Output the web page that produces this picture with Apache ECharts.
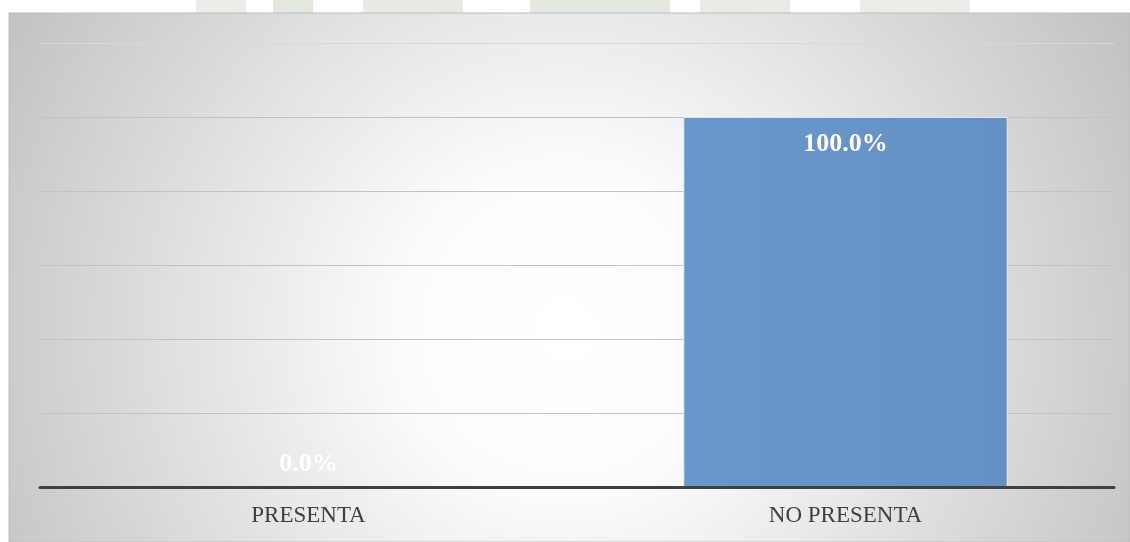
<!DOCTYPE html>
<html>
<head>
<meta charset="utf-8">
<script src="https://cdn.jsdelivr.net/npm/echarts@6/dist/echarts.min.js"></script>
<style>
  html, body { margin: 0; padding: 0; background: #ffffff; }
  #chart { width: 1130px; height: 542px; }
</style>
</head>
<body>
<div id="chart"></div>
<script>
// Categories and their percentages
const categories = ['PRESENTA', 'NO PRESENTA'];
const percentages = [0.0, 100.0];
const valueLabels = ['0.0%', '100.0%'];

const chart = echarts.init(document.getElementById('chart'), null, { renderer: 'canvas' });

const serif = '"Liberation Serif", "DejaVu Serif", serif';

const barData = percentages.map((v, i) => ({
  value: v,
  itemStyle: v > 0 ? {} : { borderWidth: 0 },
  label: v > 0
    ? { show: true, position: 'insideTop', distance: 14, formatter: valueLabels[i] }
    : { show: true, position: 'top', distance: 10, formatter: valueLabels[i] }
}));

chart.setOption({
  animation: false,
  backgroundColor: '#ffffff',
  graphic: [
    // faint logo fragments peeking above the panel
    { type: 'rect', z: -20, shape: { x: 196, y: 0, width: 50, height: 13 }, style: { fill: '#ebeee8' } },
    { type: 'rect', z: -20, shape: { x: 273, y: 0, width: 40, height: 13 }, style: { fill: '#e4e9e0' } },
    { type: 'rect', z: -20, shape: { x: 363, y: 0, width: 100, height: 13 }, style: { fill: '#e7ebe4' } },
    { type: 'rect', z: -20, shape: { x: 530, y: 0, width: 140, height: 13 }, style: { fill: '#e4e9e0' } },
    { type: 'rect', z: -20, shape: { x: 700, y: 0, width: 90, height: 13 }, style: { fill: '#e9ece6' } },
    { type: 'rect', z: -20, shape: { x: 860, y: 0, width: 110, height: 13 }, style: { fill: '#ebeee8' } },
    // shaded chart panel
    {
      type: 'rect', z: -10,
      shape: { x: 9, y: 13, width: 1121, height: 529 },
      style: {
        fill: new echarts.graphic.RadialGradient(565, 330, 640, [
          { offset: 0, color: '#ffffff' },
          { offset: 0.25, color: '#fcfcfc' },
          { offset: 1, color: '#c2c2c2' }
        ], true),
        stroke: '#bcbcbc', lineWidth: 1
      }
    }
  ],
  grid: { left: 40, right: 16, top: 43, bottom: 55, containLabel: false },
  xAxis: {
    type: 'category',
    data: categories,
    z: 5,
    axisLine: { show: true, lineStyle: { color: '#404040', width: 3 } },
    axisTick: { show: false },
    axisLabel: { color: '#404040', fontFamily: serif, fontSize: 23, margin: 17 }
  },
  yAxis: {
    type: 'value',
    min: 0, max: 120, interval: 20,
    axisLine: { show: false },
    axisTick: { show: false },
    axisLabel: { show: false },
    splitLine: {
      lineStyle: {
        color: ['#c2c2c2', '#c2c2c2', '#c2c2c2', '#c2c2c2', '#c2c2c2', '#c2c2c2', '#d8d8d8'],
        width: 1
      }
    }
  },
  series: [{
    type: 'bar',
    data: barData,
    barCategoryGap: '39.6%',
    itemStyle: {
      color: new echarts.graphic.LinearGradient(0, 0, 1, 0, [
        { offset: 0, color: '#6a97ca' },
        { offset: 1, color: '#6590c4' }
      ]),
      borderColor: 'rgba(235,242,250,0.8)',
      borderWidth: 1
    },
    label: {
      show: true,
      color: '#ffffff',
      fontFamily: serif,
      fontWeight: 'bold',
      fontSize: 26
    }
  }]
});
</script>
</body>
</html>
